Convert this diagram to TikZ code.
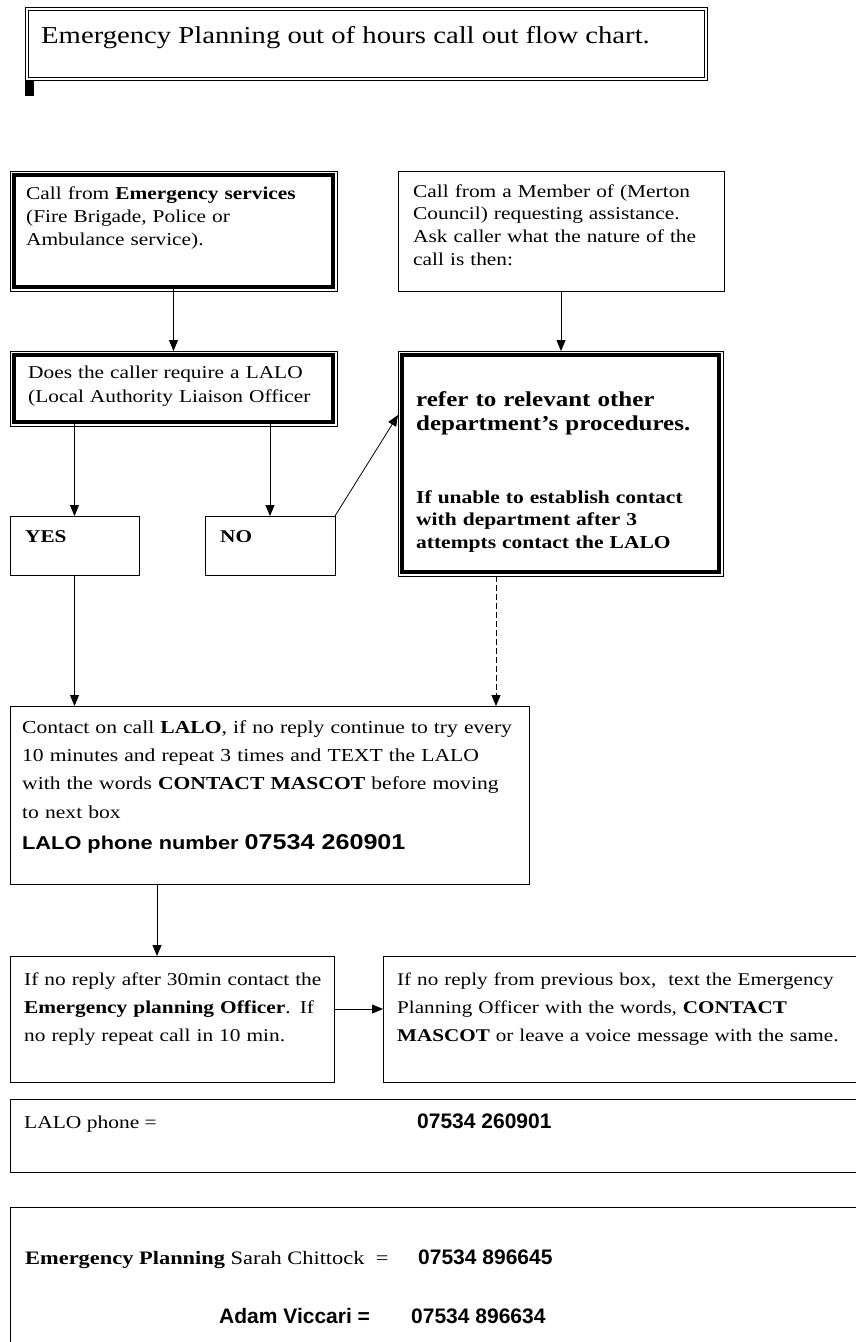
\documentclass[tikz,border=0pt]{standalone}
\usepackage{fontspec}
\setmainfont{Liberation Serif}[FakeStretch=1.18]
\setsansfont{Liberation Sans}[FakeStretch=1.17]
\newfontfamily\numfont{Liberation Sans}
\usetikzlibrary{arrows.meta,positioning,calc}

\newcommand{\sz}[2]{\fontsize{#1}{#2}\selectfont}
\newcommand{\firstline}{\rule{0pt}{.8em}}

\tikzset{
    box/.style={draw, line width=.8pt, anchor=north west, inner sep=0pt, outer sep=0pt},
    heavybox/.style={box, line width=3.5pt},
    txt/.style={anchor=north west, inner sep=0pt, text width=700pt, align=left},
    word/.style={anchor=base west, inner sep=0pt},
    arr/.style={line width=.8pt, -{Triangle[length=11pt,width=9pt]}}
}

\begin{document}
\begin{tikzpicture}[x=1pt, y=-1pt]
    \useasboundingbox (0,0) rectangle (856,1342);
    \fill[white] (0,0) rectangle (856,1342);
    \clip (0,0) rectangle (856,1342);

    % Heading
    \node[box, double, double distance=2.4pt, line width=.8pt, minimum width=679pt, minimum height=70pt] (title) at (27,9) {};
    \node[word, font=\sz{24.3}{28}] (heading) at (41,43) {Emergency Planning out of hours call out flow chart.};
    \fill ([xshift=-2pt,yshift=-2pt]title.south west) rectangle +(9,15);

    % Boxes
    \node[heavybox, minimum width=319.4pt, minimum height=112.4pt] (emerg) at (13.8,174.8) {};
    \node[box, minimum width=326pt, minimum height=120pt] (member) at (398,171) {};
    \node[heavybox, minimum width=319.4pt, minimum height=67.4pt] (need) at (13.8,354.8) {};
    \node[heavybox, minimum width=317.4pt, minimum height=217.4pt] (refer) at (401.8,354.8) {};
    \node[box, minimum width=129pt, minimum height=59pt] (yes) at (10,516) {};
    \node[box, minimum width=130pt, minimum height=59pt] (no) at (205,516) {};
    \node[box, minimum width=519pt, minimum height=178pt] (call) at (10,706) {};
    \node[box, minimum width=324pt, minimum height=126pt] (officer) at (10,956) {};
    \node[box, minimum width=490pt, minimum height=126pt] (sms) at (383,956) {};
    \node[box, minimum width=870pt, minimum height=73pt] (phones) at (10,1099) {};
    \node[box, minimum width=870pt, minimum height=160pt] (contacts) at (10,1207) {};

    \foreach \n in {emerg,need,refer}
        \draw[line width=.8pt] ([shift={(-3.8,-3.8)}]\n.north west) rectangle ([shift={(3.8,3.8)}]\n.south east);

    % Texts
    \node[txt, font=\sz{18.1}{23}] (emergtext) at (26,184.5) {\firstline Call from \textbf{Emergency services}\\(Fire Brigade, Police or\\Ambulance service).};
    \node[txt, font=\sz{18.1}{22.7}] (membertext) at (413,182.5) {\firstline Call from a Member of (Merton\\Council) requesting assistance.\\Ask caller what the nature of the\\call is then:};
    \node[txt, font=\sz{18.1}{24}] (needtext) at (28,363.5) {\firstline Does the caller require a LALO\\(Local Authority Liaison Officer};
    \node[txt, font=\bfseries\sz{21.2}{24}] (refertext) at (416,389) {\firstline refer to relevant other\\department’s procedures.};
    \node[txt, font=\bfseries\sz{18.2}{22.5}] (retrytext) at (416,488.4) {\firstline If unable to establish contact\\with department after 3\\attempts contact the LALO};
    \node[word, font=\bfseries\sz{18}{22}] (yestext) at (25,542) {YES};
    \node[word, font=\bfseries\sz{18}{22}] (notext) at (220,542) {NO};
    \node[txt, font=\sz{18.3}{28.3}] (calltext) at (22,718.4) {\firstline Contact on call \textbf{LALO}, if no reply continue to try every\\10 minutes and repeat 3 times and TEXT the LALO\\with the words \textbf{CONTACT MASCOT} before moving\\to next box};
    \node[word, font=\sffamily\bfseries\sz{18.6}{22}] (callphone) at (22,849) {LALO phone number {\sz{21.5}{25}07534 260901}};
    \node[txt, font=\sz{18.1}{28.3}] (officertext) at (24,970.5) {\firstline If no reply after 30min contact the\\\textbf{Emergency planning Officer}. If\\no reply repeat call in 10 min.};
    \node[txt, font=\sz{17.9}{28.3}] (smstext) at (397,970.7) {\firstline If no reply from previous box,\ \ text the Emergency\\Planning Officer with the words, \textbf{CONTACT}\\\textbf{MASCOT} or leave a voice message with the same.};
    \node[word, font=\sz{18.2}{22}] (phoneslabel) at (24,1128) {LALO phone =};
    \node[word, font=\numfont\bfseries\sz{21}{24}] (phonesnum) at (417,1128) {07534 260901};
    \node[word, font=\sz{19}{23}] (sarah) at (25,1264) {\textbf{Emergency Planning} Sarah Chittock\ \ =};
    \node[word, font=\numfont\bfseries\sz{21}{24}] (sarahnum) at (418,1264) {07534 896645};
    \node[word, font=\numfont\bfseries\sz{21}{24}] (adam) at (219,1323) {Adam Viccari =};
    \node[word, font=\numfont\bfseries\sz{21}{24}] (adamnum) at (411,1323) {07534 896634};

    % Connectors
    \draw[arr] (emerg.south) -- ([yshift=3.8pt]need.north);
    \draw[arr, shorten >=3.8pt] (member.south) -- (member.south |- refer.north);
    \draw[arr] (yes.north |- need.south) -- (yes.north);
    \draw[arr] (no.north |- need.south) -- (no.north);
    \draw[arr] (no.north east) -- ([xshift=-3.8pt,yshift=-60.2pt]refer.north west);
    \draw[arr] (yes.south) -- (yes.south |- call.north);
    \draw[arr, dash pattern=on 6pt off 3pt] ([xshift=-64.5pt,yshift=-3.8pt]refer.south) -- ([xshift=-64.5pt]refer.south |- call.north);
    \draw[arr] ([xshift=-15pt]officer.north |- call.south) -- ([xshift=-15pt]officer.north);
    \draw[arr] ([yshift=10pt]officer.east) -- ([yshift=10pt]officer.east -| sms.west);
\end{tikzpicture}
\end{document}
